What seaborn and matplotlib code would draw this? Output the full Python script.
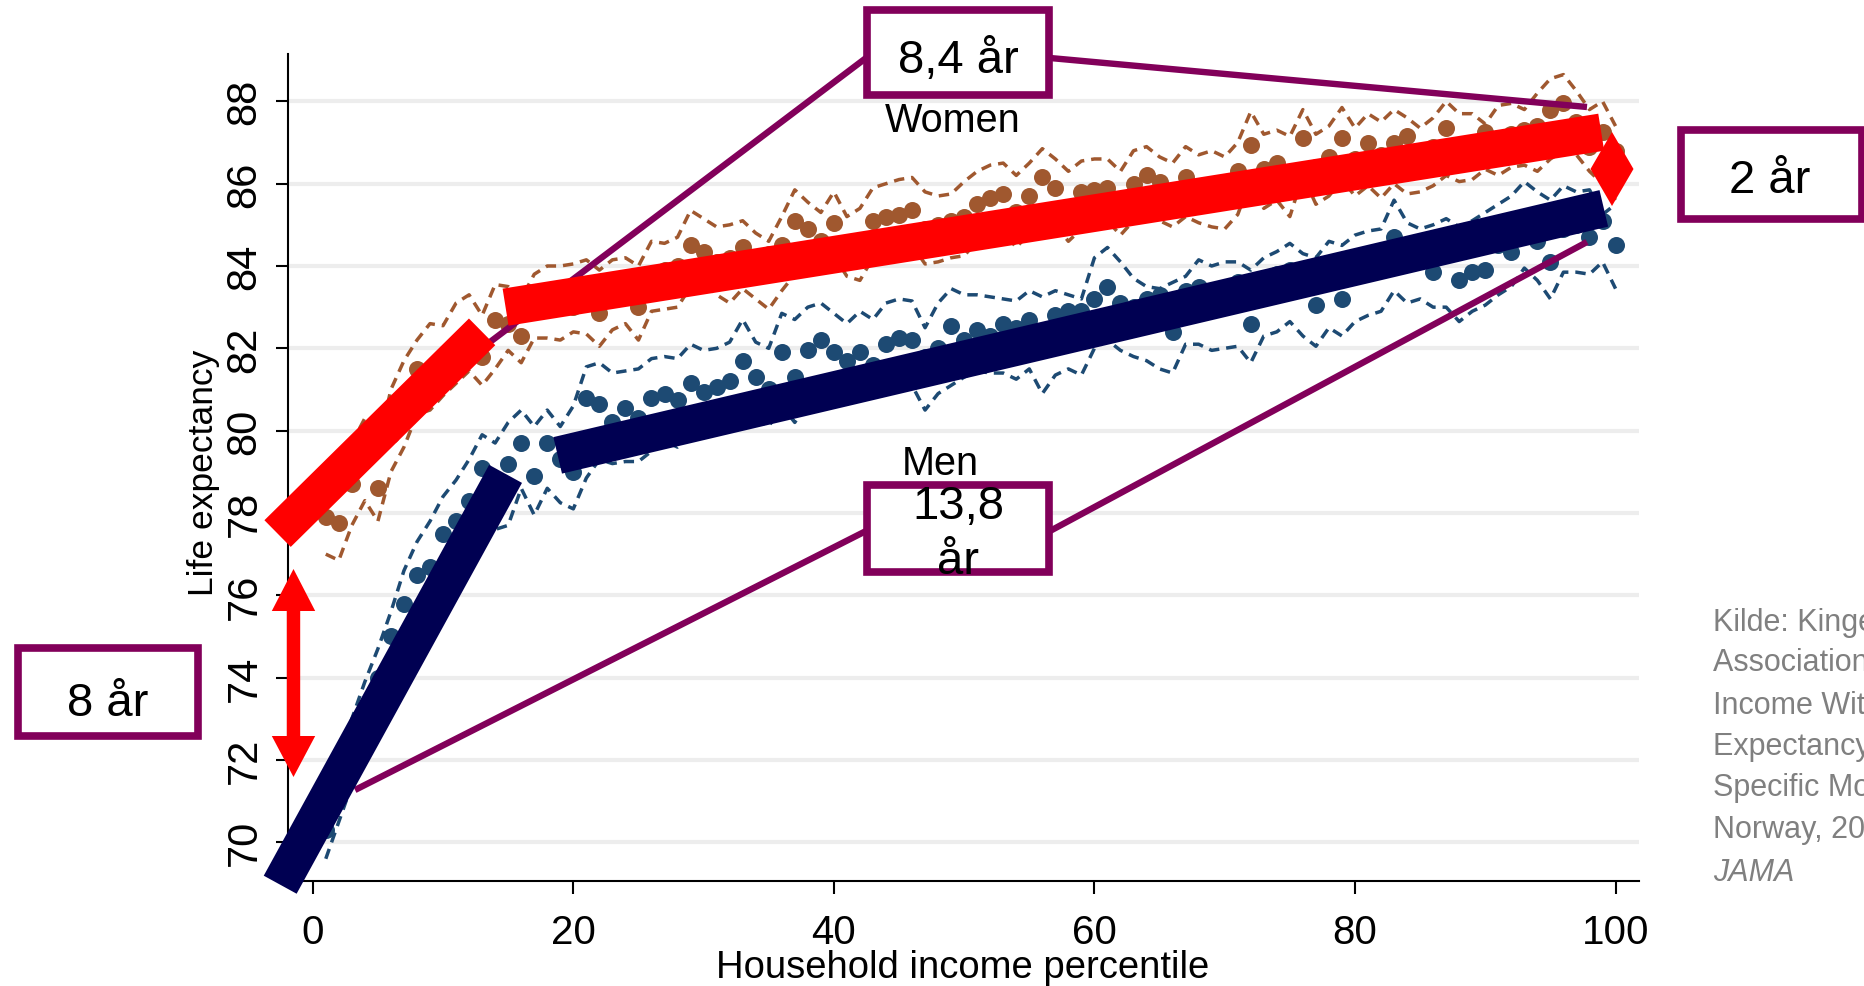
import matplotlib
matplotlib.use("Agg")
import matplotlib.pyplot as plt
from matplotlib.patches import Rectangle, Polygon
import pandas as pd
import seaborn as sns

# household income percentile 1..100
percentile = list(range(1, 101))

women = [77.9, 77.75, 78.7, 79.3, 78.6, 79.9, 80.6, 81.5, 81.1, 81.6,
         81.9, 82.0, 81.8, 82.7, 82.6, 82.3, 82.9, 83.1, 83.2, 83.0,
         83.3, 82.85, 83.5, 83.6, 83.0, 83.8, 83.9, 84.0, 84.5, 84.35,
         84.1, 84.2, 84.45, 84.2, 84.3, 84.5, 85.1, 84.9, 84.6, 85.05,
         84.5, 84.6, 85.1, 85.2, 85.25, 85.35, 84.9, 85.0, 85.1, 85.2,
         85.5, 85.65, 85.75, 85.3, 85.7, 86.15, 85.9, 85.4, 85.8, 85.85,
         85.9, 85.6, 86.0, 86.2, 86.05, 85.7, 86.15, 85.9, 85.8, 86.0,
         86.3, 86.95, 86.35, 86.5, 86.2, 87.1, 86.4, 86.65, 87.1, 86.6,
         87.0, 86.7, 87.0, 87.15, 86.8, 86.9, 87.35, 86.9, 87.0, 87.25,
         87.1, 87.2, 87.3, 87.4, 87.8, 87.95, 87.5, 86.9, 87.25, 86.8]
women_hi = [78.9, 78.8, 79.7, 80.3, 79.6, 81.0, 81.7, 82.2, 82.6, 82.55,
            83.1, 83.3, 82.8, 83.55, 83.5, 83.2, 83.8, 84.0, 84.0, 84.05,
            84.15, 83.9, 84.15, 84.2, 84.0, 84.6, 84.55, 84.7, 85.35, 85.15,
            84.95, 85.0, 85.1, 84.8, 84.6, 85.2, 85.85, 85.55, 85.3, 85.8,
            85.2, 85.4, 85.9, 86.0, 86.1, 86.15, 85.8, 85.7, 85.75, 86.05,
            86.3, 86.45, 86.5, 86.2, 86.5, 86.85, 86.6, 86.3, 86.55, 86.6,
            86.6, 86.3, 86.8, 86.9, 86.65, 86.5, 86.9, 86.7, 86.8, 86.65,
            87.0, 87.75, 87.2, 87.3, 87.15, 87.8, 87.2, 87.4, 87.85, 87.35,
            87.7, 87.5, 87.8, 87.6, 87.35, 87.6, 88.0, 87.7, 87.7, 87.45,
            87.9, 87.95, 87.8, 88.2, 88.55, 88.65, 88.25, 87.8, 88.0, 87.4]
women_lo = [77.0, 76.85, 77.7, 78.3, 77.8, 79.0, 79.6, 80.4, 80.5, 80.85,
            81.15, 81.45, 81.1, 81.5, 81.95, 81.65, 82.25, 82.25, 82.2, 82.4,
            82.35, 82.05, 82.45, 82.6, 82.2, 82.9, 82.95, 83.0, 83.5, 83.6,
            83.3, 83.1, 83.45, 83.2, 82.95, 83.4, 83.8, 83.9, 83.8, 84.25,
            83.75, 83.65, 84.2, 84.3, 84.4, 84.5, 84.05, 84.1, 84.2, 84.25,
            84.6, 84.7, 84.85, 84.45, 84.8, 85.2, 85.0, 84.6, 84.9, 85.05,
            85.1, 84.75, 85.1, 85.3, 85.1, 84.95, 85.2, 85.05, 84.95, 84.9,
            85.25, 86.1, 85.4, 85.6, 85.2, 86.2, 85.5, 85.7, 86.1, 85.7,
            85.95, 85.65, 86.0, 85.75, 85.8, 85.95, 86.2, 86.05, 86.1, 86.35,
            86.2, 86.4, 86.45, 86.3, 86.6, 86.8, 86.7, 86.3, 86.0, 85.6]

men = [70.3, 71.2, 72.3, 73.2, 74.0, 75.0, 75.8, 76.5, 76.7, 77.5,
       77.8, 78.3, 79.1, 78.8, 79.2, 79.7, 78.9, 79.7, 79.3, 79.0,
       80.8, 80.65, 80.2, 80.55, 80.3, 80.8, 80.9, 80.75, 81.15, 80.95,
       81.05, 81.2, 81.7, 81.3, 81.0, 81.9, 81.3, 81.95, 82.2, 81.9,
       81.7, 81.9, 81.6, 82.1, 82.25, 82.2, 81.8, 82.0, 82.55, 82.2,
       82.45, 82.3, 82.6, 82.5, 82.7, 82.4, 82.8, 82.9, 82.9, 83.2,
       83.5, 83.1, 83.0, 83.2, 83.3, 82.4, 83.4, 83.5, 83.3, 83.45,
       83.6, 82.6, 83.7, 83.8, 83.9, 83.6, 83.05, 84.0, 83.2, 84.1,
       84.2, 84.3, 84.7, 84.4, 84.3, 83.85, 84.4, 83.65, 83.85, 83.9,
       84.5, 84.35, 84.8, 84.6, 84.1, 84.9, 85.0, 84.7, 85.1, 84.5]
men_hi = [70.9, 71.9, 73.0, 73.9, 74.7, 75.6, 76.6, 77.3, 77.8, 78.4,
          78.8, 79.3, 79.9, 79.7, 80.2, 80.5, 80.1, 80.5, 80.1, 80.6,
          81.55, 81.65, 81.4, 81.45, 81.5, 81.75, 81.8, 81.75, 82.1, 81.95,
          82.0, 82.15, 82.7, 82.15, 82.0, 82.85, 82.7, 83.0, 83.1, 82.85,
          82.6, 82.9, 82.7, 83.1, 83.2, 83.15, 82.5, 83.1, 83.45, 83.3,
          83.3, 83.25, 83.2, 83.15, 83.4, 83.25, 83.4, 83.3, 83.2, 84.2,
          84.45, 84.1, 83.7, 83.5, 83.45, 83.6, 83.75, 84.15, 84.0, 84.1,
          84.1, 83.9, 84.2, 84.35, 84.55, 84.3, 84.2, 84.6, 84.5, 84.75,
          84.85, 84.9, 85.6, 85.05, 84.9, 85.0, 85.15, 84.95, 85.1, 85.3,
          85.5, 85.7, 86.05, 85.8, 85.6, 85.95, 85.8, 85.85, 85.25, 85.5]
men_lo = [69.6, 70.5, 71.4, 72.3, 73.2, 73.9, 74.6, 75.2, 75.6, 76.2,
          76.6, 77.0, 77.6, 77.6, 77.7, 78.6, 77.95, 78.6, 78.25, 78.1,
          78.85, 79.3, 79.2, 79.25, 79.25, 79.5, 79.75, 79.6, 79.9, 79.95,
          80.0, 80.2, 80.5, 80.3, 80.1, 80.6, 80.2, 80.7, 81.0, 80.9,
          80.8, 80.95, 80.8, 81.0, 81.15, 81.1, 80.5, 80.9, 81.1, 81.3,
          81.45, 81.4, 81.4, 81.25, 81.5, 80.9, 81.35, 81.5, 81.35, 82.0,
          82.2, 81.95, 81.8, 81.7, 81.5, 81.4, 82.1, 82.1, 81.95, 82.0,
          82.05, 81.65, 82.3, 82.4, 82.65, 82.3, 82.05, 82.5, 82.3, 82.65,
          82.8, 82.9, 83.4, 83.1, 83.2, 83.0, 83.0, 82.65, 82.9, 83.05,
          83.3, 83.5, 83.95, 83.65, 83.2, 83.85, 83.85, 83.8, 84.1, 83.45]

# trend bars drawn over the scatter (start / end of each piece)
red_a_x, red_a_y = [-2.7, 13.0], [77.5, 82.4]
red_b_x, red_b_y = [14.8, 98.9], [83.0, 87.25]
navy_a_x, navy_a_y = [-2.5, 14.8], [68.97, 78.95]
navy_b_x, navy_b_y = [18.8, 99.1], [79.4, 85.4]

x_ticks = [0, 20, 40, 60, 80, 100]
y_ticks = [70, 72, 74, 76, 78, 80, 82, 84, 86, 88]

source_lines = ["Kilde: Kinge et al. (2019)", "Association of Household",
                "Income With Life", "Expectancy and Cause-",
                "Specific Mortality in", "Norway, 2005-2015.", "JAMA"]

sns.set_theme(style="white")
plt.rcParams["font.family"] = ["Liberation Sans", "DejaVu Sans"]

W, H = 1865, 987
fig = plt.figure(figsize=(W / 100, H / 100), dpi=100)
ax = fig.add_axes([288 / W, 1 - 882 / H, (1639 - 288) / W, (882 - 55) / H])


def fx(x):
    return x / W


def fy(y):
    return 1 - y / H


df = pd.DataFrame({"pct": percentile, "women": women, "women_hi": women_hi,
                   "women_lo": women_lo, "men": men, "men_hi": men_hi,
                   "men_lo": men_lo})

brown = "#A0582F"
blue = "#1D4A73"
purple = "#82005A"
dash = (0, (3.0, 2.0))

for col, c in [("women_hi", brown), ("women_lo", brown), ("men_hi", blue), ("men_lo", blue)]:
    sns.lineplot(data=df, x="pct", y=col, color=c, lw=2.5, linestyle=dash,
                 errorbar=None, ax=ax, zorder=2)
sns.scatterplot(data=df, x="pct", y="women", color=brown, s=150, linewidth=0, ax=ax, zorder=3)
sns.scatterplot(data=df, x="pct", y="men", color=blue, s=150, linewidth=0, ax=ax, zorder=3)

# purple connector lines (figure pixel space)
connectors = [((866, 59), (490, 343)), ((1050, 59), (1587, 108)),
              ((866, 532), (355, 791)), ((1050, 532), (1587, 243))]
for (x0, y0), (x1, y1) in connectors:
    ax.plot([fx(x0), fx(x1)], [fy(y0), fy(y1)], color=purple, lw=4.6,
            transform=fig.transFigure, clip_on=False, zorder=4,
            solid_capstyle="butt")

for xs, ys, c in [(red_a_x, red_a_y, "#FF0000"), (red_b_x, red_b_y, "#FF0000"),
                  (navy_a_x, navy_a_y, "#000052"), (navy_b_x, navy_b_y, "#000052")]:
    sns.lineplot(x=xs, y=ys, color=c, lw=27, solid_capstyle="butt",
                 clip_on=False, ax=ax, zorder=5, errorbar=None)

# red double arrows
cx = 293.5
arrow = [(cx, 570), (cx + 21.7, 612), (cx + 6.7, 612), (cx + 6.7, 737),
         (cx + 21.7, 737), (cx, 778), (cx - 21.7, 737), (cx - 6.7, 737),
         (cx - 6.7, 612), (cx - 21.7, 612)]
diamond = [(1612, 133), (1633.5, 170), (1612, 207), (1590.5, 170)]
for pts in (arrow, diamond):
    ax.add_patch(Polygon([(fx(a), fy(b)) for a, b in pts], closed=True,
                         fc="#FF0000", ec="none", transform=fig.transFigure,
                         clip_on=False, zorder=6))

ax.set_xlim(-1.9, 101.8)
ax.set_ylim(69.06, 89.15)
ax.set_xticks(x_ticks)
ax.set_yticks(y_ticks)
ax.set_xlabel("")
ax.set_ylabel("")
ax.yaxis.grid(True, color="#EDEDED", lw=3)
ax.xaxis.grid(False)
ax.set_axisbelow(True)
for s in ["top", "right"]:
    ax.spines[s].set_visible(False)
for s in ["left", "bottom"]:
    ax.spines[s].set_color("black")
    ax.spines[s].set_linewidth(1.5)
ax.tick_params(axis="both", bottom=True, left=True, direction="out", length=9,
               width=1.5, color="black", labelcolor="black")
ax.tick_params(axis="x", labelsize=29, pad=14)
ax.tick_params(axis="y", labelsize=30, pad=8, labelrotation=90)
for lab in ax.get_yticklabels():
    lab.set_va("center")

fig.text(fx(203), fy(473), "Life expectancy", rotation=90, ha="center",
         va="center", size=25.5, color="black")
fig.text(fx(963), fy(978), "Household income percentile", ha="center",
         va="baseline", size=27.5, color="black")
fig.text(fx(953), fy(132), "Women", ha="center", va="baseline", size=28.5, color="black")
fig.text(fx(940.5), fy(475), "Men", ha="center", va="baseline", size=28.5, color="black")


def box(x0, y0, x1, y1):
    i = 3.8
    fig.add_artist(Rectangle((fx(x0 + i), fy(y1 - i)), (x1 - x0 - 2 * i) / W,
                             (y1 - y0 - 2 * i) / H, transform=fig.transFigure,
                             fc="white", ec=purple, lw=5.5, zorder=7))


box(863, 7, 1053, 100)
box(863, 482, 1053, 577)
box(1677, 127, 1866, 224)
box(14, 645, 202, 741)

big = dict(ha="center", va="baseline", size=34, color="black", zorder=8)
fig.text(fx(958), fy(72.7), "8,4 år", **big)
fig.text(fx(958), fy(518.6), "13,8", **big)
fig.text(fx(958), fy(574), "år", **big)
fig.text(fx(1770), fy(193), "2 år", **big)
fig.text(fx(108), fy(716), "8 år", **big)

for i, (line, yc) in enumerate(zip(source_lines, [622.7, 663.3, 706, 746.7, 788.3, 830, 873.3])):
    fig.text(fx(1713), fy(yc), line, ha="left", va="center", size=22,
             color="#808080", style="italic" if line == "JAMA" else "normal")

fig.savefig("out.png", dpi=100)
